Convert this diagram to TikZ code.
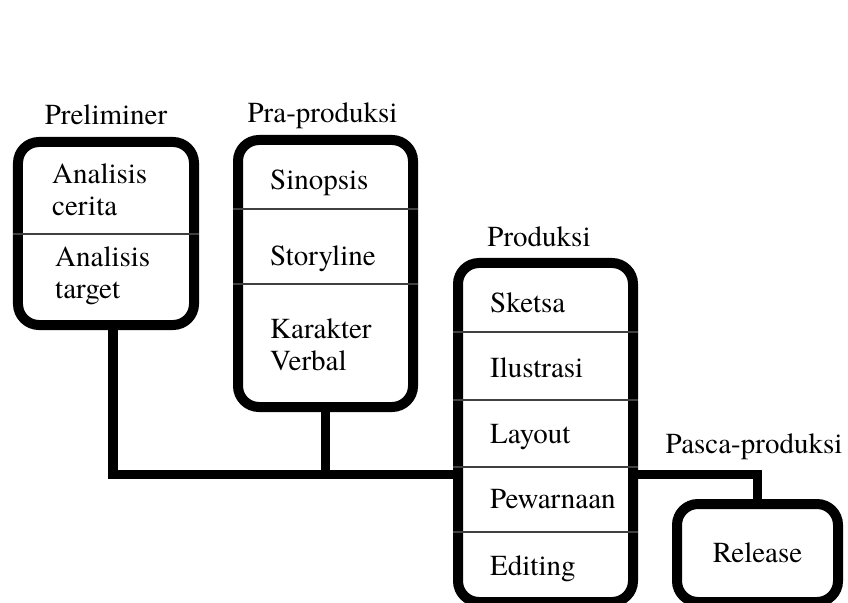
\documentclass[tikz,border=0pt]{standalone}
\usepackage{fontspec}
\setmainfont{TeX Gyre Termes}
\newfontfamily\diagfont{TeX Gyre Termes}
\usetikzlibrary{positioning}
\tikzset{
  phase/.style={draw, line width=10bp, rounded corners=21bp, inner sep=0pt},
  cell/.style={anchor=base west, align=left, inner sep=0pt},
  title/.style={anchor=base, inner sep=0pt},
  divider/.style={line width=1.3bp, black!75},
  link/.style={line width=9.5bp}
}

\begin{document}
\begin{tikzpicture}[x=1bp, y=-1bp, font=\diagfont\fontsize{29bp}{32bp}\selectfont]
  \useasboundingbox (0,0) rectangle (848,603);
  % the four phases
  \node[phase, minimum width=176bp, minimum height=183bp] (pre) at (106,233.5) {};
  \node[phase, minimum width=175bp, minimum height=267bp] (pra) at (325.5,273.5) {};
  \node[phase, minimum width=175bp, minimum height=339bp] (prod) at (545.5,432.5) {};
  \node[phase, minimum width=161bp, minimum height=98bp] (post) at (757.5,553) {};
  % titles
  \node[title] (tpre) at (106,125) {Preliminer};
  \node[title] (tpra) at (322.5,123) {Pra-produksi};
  \node[title] (tprod) at (539,247) {Produksi};
  \node[title] (tpost) at (754,453) {Pasca-produksi};
  % cells (base = last line)
  \draw[divider] (pre.west |- 0,234) -- (pre.east |- 0,234);
  \node[cell] (cerita) at (52,216) {Analisis\\cerita};
  \node[cell] (target) at (55,298) {Analisis\\target};
  \draw[divider] (pra.west |- 0,209) -- (pra.east |- 0,209);
  \draw[divider] (pra.west |- 0,284) -- (pra.east |- 0,284);
  \node[cell] (sinopsis) at (270,190) {Sinopsis};
  \node[cell] (storyline) at (270,265) {Storyline};
  \node[cell] (karakter) at (270,370) {Karakter\\Verbal};
  \foreach \y in {332,400,467,532}
    \draw[divider] (prod.west |- 0,\y) -- (prod.east |- 0,\y);
  \foreach \t/\y in {Sketsa/312, Ilustrasi/377, Layout/443, Pewarnaan/508, Editing/575}
    \node[cell] (prod-\y) at (490,\y) {\t};
  \node[title] (release) at (757.5,562) {Release};
  % connectors
  \coordinate (bar) at (0,474.5);
  \draw[link] ([xshift=7bp]pre.south) |- (prod.west |- bar);
  \draw[link] (pra.south) -- (pra.south |- bar);
  \draw[link] (prod.east |- bar) -| (post.north);
\end{tikzpicture}
\end{document}
